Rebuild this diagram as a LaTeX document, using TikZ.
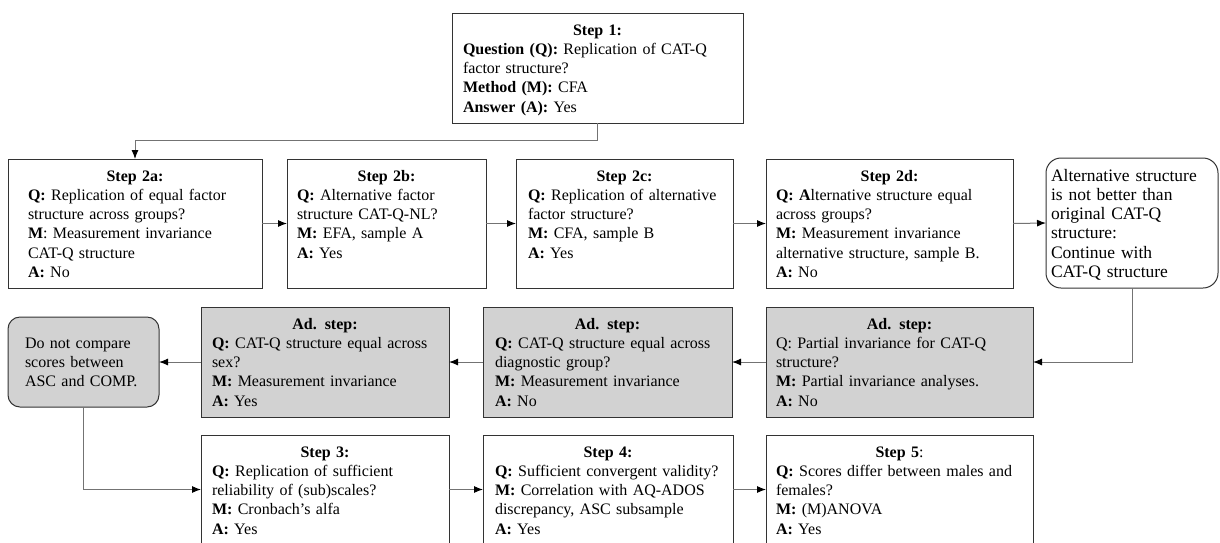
\documentclass[tikz,border=0pt]{standalone}
\usepackage{fontspec}
\setmainfont{Liberation Serif}
\usetikzlibrary{arrows.meta}
\newcommand\hd[1]{\makebox[\hsize][c]{#1}}
\begin{document}
\begin{tikzpicture}[x=1pt,y=-1pt,
  box/.style={draw=black!80, line width=1pt, inner sep=0pt, outer sep=0pt, fill=white},
  greybox/.style={box, fill=gray!35},
  rbox/.style={box, rounded corners=15pt},
  txt/.style={inner sep=0pt, outer sep=0pt, anchor=base west, align=left, font=\fontsize{16}{19.3}\selectfont},
  bigtxt/.style={txt, font=\fontsize{17.5}{19.3}\selectfont},
  conn/.style={draw=black!55, line width=1pt, -{Latex[length=9pt,width=7pt,color=black]}},
]
\useasboundingbox (0,0) rectangle (1220,542);
\clip (0,0) rectangle (1220,542);
\fill[white] (0,0) rectangle (1220,542);

% boxes
\node[box, minimum width=291, minimum height=110] (s1) at (597.5,68) {};
\node[box, minimum width=254, minimum height=129] (s2a) at (135,223.5) {};
\node[box, minimum width=199, minimum height=129] (s2b) at (386.5,223.5) {};
\node[box, minimum width=217, minimum height=129] (s2c) at (624.5,223.5) {};
\node[box, minimum width=247, minimum height=129] (s2d) at (889.5,223.5) {};
\node[rbox, minimum width=172, minimum height=130] (alt) at (1132,223) {};
\node[greybox, minimum width=267, minimum height=110] (adp) at (899.5,362) {};
\node[greybox, minimum width=249, minimum height=110] (add) at (607.5,362) {};
\node[greybox, minimum width=248, minimum height=110] (ads) at (325,362) {};
\node[box, fill=gray!35, rounded corners=12pt, minimum width=151, minimum height=90] (dnc) at (83.5,362) {};
\node[box, minimum width=248, minimum height=109] (s3) at (325,489.5) {};
\node[box, minimum width=250, minimum height=109] (s4) at (608,489.5) {};
\node[box, minimum width=267, minimum height=109] (s5) at (899.5,489.5) {};

% texts
\node[txt, text width=269] (t1) at (463,35) {\hd{\textbf{Step 1:}}\\
\textbf{Question (Q):} Replication of CAT-Q\\
factor structure?\\
\textbf{Method (M):} CFA\\
\textbf{Answer (A):} Yes};

\node[txt, text width=214] (t2a) at (28,181) {\hd{\textbf{Step 2a:}}\\
\textbf{Q:} Replication of equal factor\\
structure across groups?\\
\textbf{M}: Measurement invariance\\
CAT-Q structure\\
\textbf{A:} No};

\node[txt, text width=179] (t2b) at (297,181) {\hd{\textbf{Step 2b:}}\\
\textbf{Q:} Alternative factor\\
structure CAT-Q-NL?\\
\textbf{M:} EFA, sample A\\
\textbf{A:} Yes};

\node[txt, text width=193] (t2c) at (528,181) {\hd{\textbf{Step 2c:}}\\
\textbf{Q:} Replication of alternative\\
factor structure?\\
\textbf{M:} CFA, sample B\\
\textbf{A:} Yes};

\node[txt, text width=227] (t2d) at (776,181) {\hd{\textbf{Step 2d:}}\\
\textbf{Q: A}lternative structure equal\\
across groups?\\
\textbf{M:} Measurement invariance\\
alternative structure, sample B.\\
\textbf{A:} No};

\node[bigtxt, text width=162] (talt) at (1051,181) {Alternative structure\\
is not better than\\
original CAT-Q\\
structure:\\
Continue with\\
CAT-Q structure};

\node[txt, text width=247] (tadp) at (776,329) {\hd{\textbf{Ad. step:}}\\
Q: Partial invariance for CAT-Q\\
structure?\\
\textbf{M:} Partial invariance analyses.\\
\textbf{A:} No};

\node[txt, text width=225] (tadd) at (495,329) {\hd{\textbf{Ad. step:}}\\
\textbf{Q:} CAT-Q structure equal across\\
diagnostic group?\\
\textbf{M:} Measurement invariance\\
\textbf{A:} No};

\node[txt, text width=226] (tads) at (212,329) {\hd{\textbf{Ad. step:}}\\
\textbf{Q:} CAT-Q structure equal across\\
sex?\\
\textbf{M:} Measurement invariance\\
\textbf{A:} Yes};

\node[txt, text width=130] (tdnc) at (25,348) {Do not compare\\
scores between\\
ASC and COMP.};

\node[txt, text width=226] (t3) at (212,457) {\hd{\textbf{Step 3:}}\\
\textbf{Q:} Replication of sufficient\\
reliability of (sub)scales?\\
\textbf{M:} Cronbach’s alfa\\
\textbf{A:} Yes};

\node[txt, text width=226] (t4) at (495,457) {\hd{\textbf{Step 4:}}\\
\textbf{Q:} Sufficient convergent validity?\\
\textbf{M:} Correlation with AQ-ADOS\\
discrepancy, ASC subsample\\
\textbf{A:} Yes};

\node[txt, text width=247] (t5) at (776,457) {\hd{\textbf{Step 5}:}\\
\textbf{Q:} Scores differ between males and\\
females?\\
\textbf{M:} (M)ANOVA\\
\textbf{A:} Yes};

% connectors
\draw[conn] (s1.south) -- ++(0,17) -| (s2a.north);
\draw[conn] (s2a.east) -- (s2b.west);
\draw[conn] (s2b.east) -- (s2c.west);
\draw[conn] (s2c.east) -- (s2d.west);
\draw[conn] (s2d.east) -- (alt.west);
\draw[conn] (alt.south) |- (adp.east);
\draw[conn] (adp.west) -- (add.east);
\draw[conn] (add.west) -- (ads.east);
\draw[conn] (ads.west) -- (dnc.east);
\draw[conn] (dnc.south) |- (s3.west);
\draw[conn] (s3.east) -- (s4.west);
\draw[conn] (s4.east) -- (s5.west);
\end{tikzpicture}
\end{document}
